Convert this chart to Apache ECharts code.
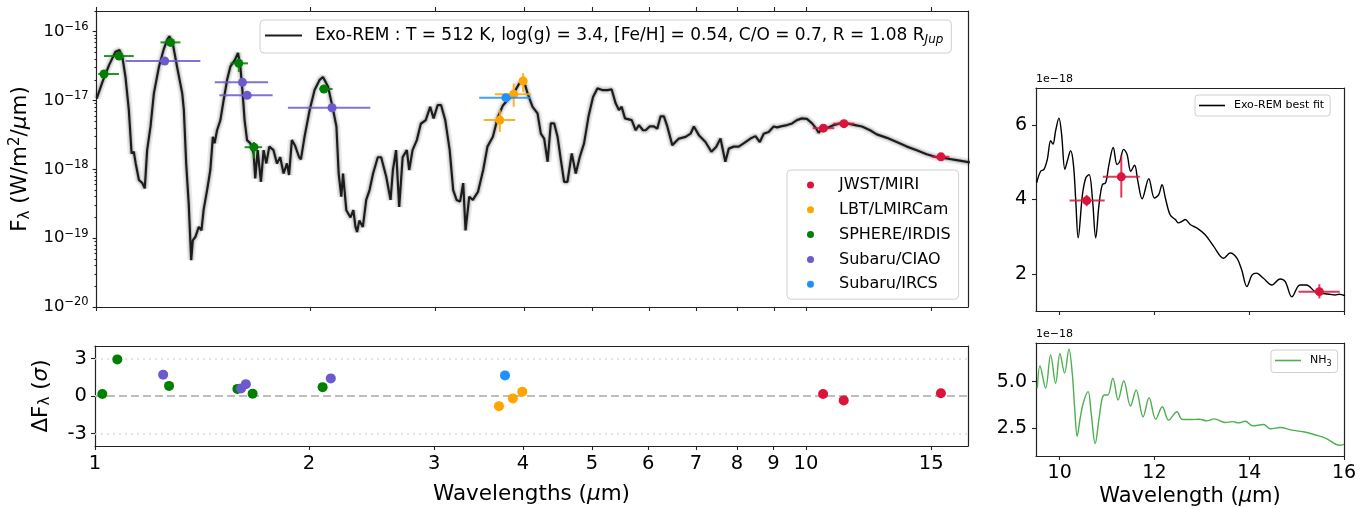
<!DOCTYPE html>
<html>
<head>
<meta charset="utf-8">
<script src="https://cdn.jsdelivr.net/npm/echarts@6.0.0/dist/echarts.min.js"></script>
<style>
  html, body { margin: 0; padding: 0; background: #fff; }
  #main { width: 1366px; height: 508px; }
</style>
</head>
<body>
<div id="main"></div>
<script>
// model spectrum (Exo-REM best fit), wavelength in micron, flux in W/m2/micron
var specWave = [1.000, 1.019, 1.041, 1.063, 1.077, 1.087, 1.098, 1.110, 1.120, 1.128, 1.135, 1.140, 1.147, 1.160, 1.169,
  1.178, 1.191, 1.204, 1.224, 1.244, 1.257, 1.266, 1.280, 1.298, 1.320, 1.327, 1.337, 1.348, 1.359, 1.366, 1.378,
  1.393, 1.405, 1.415, 1.431, 1.446, 1.458, 1.466, 1.478, 1.494, 1.510, 1.527, 1.543, 1.566, 1.582, 1.594, 1.606,
  1.616, 1.629, 1.646, 1.664, 1.673, 1.686, 1.704, 1.719, 1.734, 1.751, 1.775, 1.795, 1.814, 1.834, 1.854, 1.867,
  1.884, 1.904, 1.929, 1.940, 1.963, 1.996, 2.028, 2.062, 2.084, 2.119, 2.154, 2.177, 2.193, 2.212, 2.224, 2.248,
  2.279, 2.300, 2.316, 2.328, 2.345, 2.372, 2.398, 2.424, 2.452, 2.490, 2.517, 2.559, 2.595, 2.615, 2.642, 2.669,
  2.699, 2.736, 2.757, 2.787, 2.826, 2.863, 2.909, 2.951, 2.984, 3.024, 3.057, 3.099, 3.144, 3.180, 3.215, 3.252,
  3.285, 3.310, 3.350, 3.389, 3.446, 3.505, 3.554, 3.617, 3.677, 3.737, 3.773, 3.856, 3.940, 4.004, 4.048, 4.114,
  4.181, 4.226, 4.272, 4.320, 4.365, 4.413, 4.462, 4.510, 4.558, 4.607, 4.672, 4.733, 4.795, 4.862, 4.932, 5.006,
  5.077, 5.160, 5.245, 5.318, 5.387, 5.445, 5.493, 5.553, 5.675, 5.749, 5.810, 5.887, 5.938, 6.015, 6.099, 6.166,
  6.233, 6.300, 6.370, 6.474, 6.614, 6.759, 6.869, 6.944, 7.057, 7.210, 7.350, 7.464, 7.570, 7.690, 7.777, 7.902,
  8.030, 8.160, 8.343, 8.480, 8.600, 8.710, 8.850, 8.995, 9.095, 9.244, 9.396, 9.550, 9.700, 9.860, 10.02, 10.19,
  10.33, 10.41, 10.52, 10.75, 10.93, 11.16, 11.41, 11.72, 11.98, 12.30, 12.57, 12.99, 13.41, 13.86, 14.31, 14.78,
  15.27, 15.77, 16.29, 17.00];
var specFlux = [1.07e-17, 1.87e-17, 3.27e-17, 5.1e-17, 5.4e-17, 4.3e-17, 2.2e-17, 7.3e-18, 1.7e-18, 1.8e-18, 1.22e-18, 1.3e-18, 7.0e-19, 6.3e-19, 5.3e-19,
  1.9e-18, 4.2e-18, 1.27e-17, 3.1e-17, 5.7e-17, 7.6e-17, 8.6e-17, 6.8e-17, 3.1e-17, 1.27e-17, 7.3e-18, 1.22e-18, 3.2e-19, 4.8e-20, 9.3e-20, 1.05e-19,
  1.46e-19, 1.3e-19, 2.6e-19, 5.0e-19, 9.8e-19, 2.97e-18, 2.4e-18, 3.7e-18, 5.2e-18, 1.02e-17, 2.0e-17, 3.1e-17, 3.9e-17, 4.9e-17, 3.1e-17, 1.27e-17,
  5.2e-18, 2.66e-18, 2.4e-18, 1.7e-18, 7.4e-19, 1.9e-18, 6.6e-19, 1.9e-18, 1.22e-18, 2.14e-18, 1.9e-18, 1.22e-18, 1.5e-18, 8.7e-19, 1.22e-18, 8.3e-19,
  2.66e-18, 2.2e-18, 1.5e-18, 1.4e-18, 2.97e-18, 7.3e-18, 1.42e-17, 2.0e-17, 2.2e-17, 1.58e-17, 7.3e-18, 4.2e-18, 8.7e-19, 4.0e-19, 8.7e-19, 2.55e-19,
  2.0e-19, 2.55e-19, 1.46e-19, 1.23e-19, 1.8e-19, 1.46e-19, 3.6e-19, 5.0e-19, 8.7e-19, 1.5e-18, 1.5e-18, 7.8e-19, 3.6e-19, 9.8e-19, 1.9e-18, 2.85e-19,
  1.5e-18, 1.9e-18, 9.8e-19, 1.9e-18, 2.66e-18, 4.6e-18, 5.2e-18, 8.1e-18, 5.5e-18, 8.6e-18, 8.6e-18, 5.2e-18, 1.9e-18, 5.0e-19, 3.6e-19, 3.4e-19,
  6.3e-19, 1.3e-19, 4.0e-19, 3.6e-19, 4.7e-19, 9.8e-19, 2.14e-18, 2.97e-18, 5.8e-18, 8.5e-18, 9.5e-18, 1.2e-17, 1.77e-17, 1.87e-17, 1.27e-17, 8.1e-18,
  6.5e-18, 3.3e-18, 2.8e-18, 1.29e-18, 4.65e-18, 4.65e-18, 2.97e-18, 1.36e-18, 6.6e-19, 6.6e-19, 1.7e-18, 8.7e-19, 1.51e-18, 2.38e-18, 5.8e-18, 1.13e-17,
  1.5e-17, 1.42e-17, 1.42e-17, 1.45e-17, 9.1e-18, 7.3e-18, 8.1e-18, 5.5e-18, 5.2e-18, 3.7e-18, 4.4e-18, 3.7e-18, 3.7e-18, 4.2e-18, 4.2e-18, 3.9e-18,
  5.9e-18, 5.9e-18, 4.2e-18, 2.25e-18, 2.8e-18, 2.97e-18, 3.3e-18, 4.2e-18, 3.14e-18, 2.5e-18, 1.8e-18, 2.12e-18, 2.8e-18, 1.29e-18, 2.0e-18, 2.14e-18,
  2.14e-18, 2.38e-18, 2.8e-18, 3.04e-18, 2.5e-18, 3.3e-18, 3.5e-18, 4.2e-18, 4.07e-18, 4.25e-18, 4.4e-18, 4.65e-18, 5.2e-18, 5.5e-18, 5.4e-18, 4.65e-18,
  3.9e-18, 3.4e-18, 3.9e-18, 4.07e-18, 4.4e-18, 4.65e-18, 4.65e-18, 4.4e-18, 4.2e-18, 3.7e-18, 3.22e-18, 2.87e-18, 2.5e-18, 2.14e-18, 1.9e-18, 1.66e-18,
  1.5e-18, 1.44e-18, 1.36e-18, 1.26e-18];

// photometry: wavelength, bandwidth limits, flux, flux error limits, residual (sigma)
var miriWave = [10.57, 11.30, 15.48];
var miriWaveLo = [10.21, 10.91, 15.04];
var miriWaveHi = [10.95, 11.69, 15.91];
var miriFlux = [3.97e-18, 4.61e-18, 1.52e-18];
var miriFluxLo = [3.82e-18, 4.05e-18, 1.34e-18];
var miriFluxHi = [4.12e-18, 5.19e-18, 1.72e-18];
var miriResid = [0.16, -0.35, 0.22];

var lbtWave = [3.70, 3.87, 3.99];
var lbtWaveLo = [3.51, 3.64, 3.95];
var lbtWaveHi = [3.89, 4.09, 4.04];
var lbtFlux = [5.2e-18, 1.23e-17, 1.92e-17];
var lbtFluxLo = [3.5e-18, 8.1e-18, 1.34e-17];
var lbtFluxHi = [7.3e-18, 1.77e-17, 2.5e-17];
var lbtResid = [-0.81, -0.19, 0.35];

var sphereWave = [1.024, 1.075, 1.271, 1.586, 1.666, 2.09];
var sphereWaveLo = [1.005, 1.024, 1.23, 1.543, 1.616, 2.06];
var sphereWaveHi = [1.075, 1.128, 1.312, 1.634, 1.711, 2.15];
var sphereFlux = [2.43e-17, 4.43e-17, 7.0e-17, 3.47e-17, 2.1e-18, 1.47e-17];
var sphereFluxLo = [2.25e-17, 4.15e-17, 6.5e-17, 2.6e-17, 1.44e-18, 1.38e-17];
var sphereFluxHi = [2.6e-17, 4.7e-17, 7.5e-17, 4.1e-17, 2.5e-18, 1.56e-17];
var sphereResid = [0.16, 2.93, 0.81, 0.57, 0.19, 0.71];

var ciaoWave = [1.247, 1.605, 1.63, 2.146];
var ciaoWaveLo = [1.098, 1.467, 1.489, 1.86];
var ciaoWaveHi = [1.40, 1.744, 1.77, 2.43];
var ciaoFlux = [3.75e-17, 1.84e-17, 1.19e-17, 7.86e-18];
var ciaoFluxLo = [3.6e-17, 1.76e-17, 1.14e-17, 7.5e-18];
var ciaoFluxHi = [3.9e-17, 1.92e-17, 1.24e-17, 8.2e-18];
var ciaoResid = [1.71, 0.6, 0.95, 1.41];

var ircsWave = [3.773];
var ircsWaveLo = [3.46];
var ircsWaveHi = [4.09];
var ircsFlux = [1.1e-17];
var ircsFluxLo = [1.05e-17];
var ircsFluxHi = [1.15e-17];
var ircsResid = [1.65];

// zoomed MIRI range, flux in units of 1e-18
var zoomWave = [9.514, 9.598, 9.668, 9.739, 9.81, 9.858, 9.914, 9.984, 10.04, 10.11, 10.16, 10.23, 10.29, 10.34, 10.39,
  10.48, 10.55, 10.62, 10.69, 10.76, 10.83, 10.9, 10.97, 11.04, 11.13, 11.21, 11.27, 11.35, 11.42, 11.5, 11.58,
  11.65, 11.74, 11.88, 12.0, 12.09, 12.16, 12.23, 12.33, 12.44, 12.51, 12.58, 12.65, 12.76, 12.9, 13.07, 13.25,
  13.46, 13.6, 13.74, 13.84, 13.95, 14.06, 14.15, 14.3, 14.48, 14.65, 14.76, 14.9, 15.07, 15.21, 15.39, 15.56,
  15.7, 15.81, 15.9, 16.02];
var zoomFlux = [4.45, 4.76, 4.81, 5.08, 5.58, 5.49, 5.85, 6.19, 5.76, 4.81, 5.03, 5.31, 4.94, 3.95, 2.97,
  4.13, 4.58, 4.67, 4.04, 2.97, 3.86, 4.4, 4.45, 4.94, 5.40, 4.94, 5.03, 5.35, 5.22, 4.76, 4.92,
  4.49, 4.02, 4.56, 4.04, 4.13, 4.4, 4.04, 3.59, 3.46, 3.37, 3.41, 3.46, 3.32, 3.23, 3.05, 2.74,
  2.42, 2.56, 2.42, 2.11, 1.66, 1.97, 2.02, 1.88, 1.70, 1.86, 1.79, 1.38, 1.70, 1.70, 1.52, 1.47,
  1.45, 1.43, 1.45, 1.41];

// NH3 contribution, flux in units of 1e-18
var nh3Wave = [9.528, 9.584, 9.703, 9.809, 9.914, 10.005, 10.103, 10.195, 10.265, 10.314, 10.37, 10.426, 10.496, 10.6,
  10.665, 10.749, 10.826, 10.896, 10.946, 11.016, 11.121, 11.233, 11.353, 11.493, 11.612, 11.76, 11.886, 12.026,
  12.166, 12.3, 12.475, 12.58, 12.756, 12.945, 13.107, 13.261, 13.493, 13.654, 13.773, 13.914, 14.075, 14.3,
  14.454, 14.65, 14.896, 15.14, 15.42, 15.63, 15.9, 16.0];
var nh3Flux = [4.64, 5.85, 4.64, 6.45, 4.91, 6.51, 5.46, 6.76, 5.46, 3.64, 2.05, 2.92, 3.83, 4.46,
  3.28, 1.65, 2.92, 4.10, 4.28, 4.28, 5.18, 4.01, 5.05, 3.68, 4.55, 3.10, 4.13, 2.97,
  3.64, 2.92, 3.37, 2.97, 2.95, 2.97, 2.88, 2.99, 2.79, 2.84, 2.77, 2.86, 2.61, 2.68,
  2.45, 2.52, 2.38, 2.29, 2.10, 1.92, 1.56, 1.61];

var waveTicks = [1, 2, 3, 4, 5, 6, 7, 8, 9, 10, 15];
var fluxTicks = [1e-20, 1e-19, 1e-18, 1e-17, 1e-16];

var FONT = 'DejaVu Sans';
var modelName = 'Exo-REM : T = 512 K, log(g) = 3.4, [Fe/H] = 0.54, C/O = 0.7, R = 1.08 R';

function zip(a, b) {
  return a.map(function (v, i) { return [v, b[i]]; });
}
function errData(w, wl, wh, f, fl, fh, scale) {
  scale = scale || 1;
  return w.map(function (v, i) {
    return [v, f[i] * scale, wl[i], wh[i], fl[i] * scale, fh[i] * scale];
  });
}
// error bars + marker, placed with the axis scales
function errRender(params, api) {
  var x = api.value(0), y = api.value(1);
  var c = api.coord([x, y]);
  var l = api.coord([api.value(2), y]);
  var r = api.coord([api.value(3), y]);
  var b = api.coord([x, api.value(4)]);
  var t = api.coord([x, api.value(5)]);
  var color = api.visual('color');
  return {
    type: 'group',
    children: [
      { type: 'line', shape: { x1: l[0], y1: l[1], x2: r[0], y2: r[1] }, style: { stroke: color, lineWidth: 2, opacity: 0.85 } },
      { type: 'line', shape: { x1: b[0], y1: b[1], x2: t[0], y2: t[1] }, style: { stroke: color, lineWidth: 2, opacity: 0.85 } },
      { type: 'circle', shape: { cx: c[0], cy: c[1], r: 4.5 }, style: { fill: color } }
    ]
  };
}

var minorTicks = [];
for (var e = -20; e < -16; e++) {
  for (var m = 2; m <= 9; m++) minorTicks.push(m * Math.pow(10, e));
}
minorTicks.push(2e-16);

var instruments = [
  { name: 'JWST/MIRI', color: '#dc143c', d: [miriWave, miriWaveLo, miriWaveHi, miriFlux, miriFluxLo, miriFluxHi], res: miriResid },
  { name: 'LBT/LMIRCam', color: '#ffa500', d: [lbtWave, lbtWaveLo, lbtWaveHi, lbtFlux, lbtFluxLo, lbtFluxHi], res: lbtResid },
  { name: 'SPHERE/IRDIS', color: '#008000', d: [sphereWave, sphereWaveLo, sphereWaveHi, sphereFlux, sphereFluxLo, sphereFluxHi], res: sphereResid },
  { name: 'Subaru/CIAO', color: '#6a5acd', d: [ciaoWave, ciaoWaveLo, ciaoWaveHi, ciaoFlux, ciaoFluxLo, ciaoFluxHi], res: ciaoResid },
  { name: 'Subaru/IRCS', color: '#1e90ff', d: [ircsWave, ircsWaveLo, ircsWaveHi, ircsFlux, ircsFluxLo, ircsFluxHi], res: ircsResid }
];

var frameLine = { show: true, onZero: false, lineStyle: { color: '#222', width: 1.2 } };
var noTick = { show: false };
var noLabel = { show: false };
var noSplit = { show: false };
var tickStyle = { color: '#222', width: 1.1 };

var series = [
  // spread of model spectra
  { type: 'line', xAxisIndex: 0, yAxisIndex: 0, data: zip(specWave, specFlux), showSymbol: false, silent: true,
    lineStyle: { color: 'rgba(0,0,0,0.08)', width: 8 }, z: 1 },
  { type: 'line', xAxisIndex: 0, yAxisIndex: 0, data: zip(specWave, specFlux), showSymbol: false, silent: true,
    lineStyle: { color: 'rgba(0,0,0,0.15)', width: 4.5 }, z: 1 },
  { name: 'model', type: 'line', xAxisIndex: 0, yAxisIndex: 0, data: zip(specWave, specFlux), showSymbol: false,
    lineStyle: { color: '#1c1c1c', width: 2.2 }, itemStyle: { color: '#1c1c1c' }, z: 2 },
  // residual reference lines
  { type: 'line', xAxisIndex: 2, yAxisIndex: 3, data: [], silent: true,
    markLine: { symbol: 'none', silent: true, label: { show: false },
      data: [
        { yAxis: 3, lineStyle: { color: '#dcdcdc', type: [2, 4], width: 1.5 } },
        { yAxis: -3, lineStyle: { color: '#dcdcdc', type: [2, 4], width: 1.5 } },
        { yAxis: 0, lineStyle: { color: '#bdbdbd', type: [8, 4], width: 2 } }
      ] } },
  // zoomed best fit and NH3
  { name: 'Exo-REM best fit', type: 'line', xAxisIndex: 3, yAxisIndex: 5, data: zip(zoomWave, zoomFlux), showSymbol: false,
    smooth: 0.35, lineStyle: { color: '#000', width: 1.4 }, itemStyle: { color: '#000' } },
  { name: 'NH3', type: 'line', xAxisIndex: 5, yAxisIndex: 7, data: zip(nh3Wave, nh3Flux), showSymbol: false,
    smooth: 0.35, lineStyle: { color: '#4caf50', width: 1.4 }, itemStyle: { color: '#4caf50' } },
  { name: 'JWST/MIRI', type: 'custom', xAxisIndex: 3, yAxisIndex: 5, renderItem: errRender, clip: true,
    itemStyle: { color: '#dc143c' },
    data: errData(miriWave, miriWaveLo, miriWaveHi, miriFlux, miriFluxLo, miriFluxHi, 1e18),
    encode: { x: [0, 2, 3], y: [1, 4, 5] }, z: 5 }
];

instruments.forEach(function (ins) {
  series.push({
    name: ins.name, type: 'custom', xAxisIndex: 0, yAxisIndex: 0, renderItem: errRender, clip: true,
    itemStyle: { color: ins.color },
    data: errData(ins.d[0], ins.d[1], ins.d[2], ins.d[3], ins.d[4], ins.d[5]),
    encode: { x: [0, 2, 3], y: [1, 4, 5] }, z: 5
  });
  series.push({
    name: ins.name, type: 'scatter', xAxisIndex: 2, yAxisIndex: 3, symbolSize: 10,
    itemStyle: { color: ins.color, opacity: 1 }, data: zip(ins.d[0], ins.res), z: 5
  });
});

var option = {
  animation: false,
  backgroundColor: '#fff',
  textStyle: { fontFamily: FONT, color: '#000' },
  grid: [
    { left: 95, top: 11, width: 873, height: 296 },
    { left: 95, top: 346, width: 873, height: 100 },
    { left: 1036, top: 88, width: 308, height: 223 },
    { left: 1036, top: 343, width: 308, height: 113 }
  ],
  legend: [
    {
      data: [{ name: 'model', icon: 'rect' }],
      left: 260, top: 20, orient: 'horizontal',
      itemWidth: 37, itemHeight: 2.2,
      padding: [7, 8, 7, 5],
      backgroundColor: 'rgba(255,255,255,0.85)', borderColor: '#d0d0d0', borderWidth: 1, borderRadius: 4,
      formatter: function () { return modelName + '{sub|Jup}'; },
      textStyle: { fontFamily: FONT, fontSize: 17, color: '#000', padding: [0, 0, 0, 8],
        rich: { sub: { fontFamily: FONT, fontSize: 12, fontStyle: 'italic', padding: [9, 0, 0, 0] } } }
    },
    {
      data: instruments.map(function (ins) { return { name: ins.name, icon: 'circle' }; }),
      left: 787, top: 170, orient: 'vertical',
      itemWidth: 7, itemHeight: 7, itemGap: 8.8,
      padding: [7, 8, 7, 20],
      backgroundColor: 'rgba(255,255,255,0.85)', borderColor: '#d0d0d0', borderWidth: 1, borderRadius: 4,
      textStyle: { fontFamily: FONT, fontSize: 16, color: '#000', padding: [0, 0, 0, 20] }
    },
    {
      data: [{ name: 'Exo-REM best fit', icon: 'rect' }],
      left: 1195, top: 95,
      itemWidth: 26, itemHeight: 1.6,
      padding: [5, 6, 5, 4],
      backgroundColor: '#fff', borderColor: '#d0d0d0', borderWidth: 1, borderRadius: 3,
      textStyle: { fontFamily: FONT, fontSize: 11, color: '#000', padding: [0, 0, 0, 4] }
    },
    {
      data: [{ name: 'NH3', icon: 'rect' }],
      left: 1271, top: 350,
      itemWidth: 26, itemHeight: 1.6,
      padding: [5, 6, 5, 4],
      backgroundColor: '#fff', borderColor: '#d0d0d0', borderWidth: 1, borderRadius: 3,
      formatter: function () { return 'NH{sub|3}'; },
      textStyle: { fontFamily: FONT, fontSize: 11, color: '#000', padding: [0, 0, 0, 4],
        rich: { sub: { fontFamily: FONT, fontSize: 8, padding: [6, 0, 0, 0] } } }
    }
  ],
  xAxis: [
    { type: 'log', gridIndex: 0, min: 1, max: 16.9, axisLine: frameLine,
      axisTick: { customValues: waveTicks, length: 4, lineStyle: tickStyle },
      axisLabel: noLabel, splitLine: noSplit },
    { type: 'log', gridIndex: 0, position: 'top', min: 1, max: 16.9, axisLine: frameLine,
      axisTick: { customValues: waveTicks, length: 4, lineStyle: tickStyle },
      axisLabel: noLabel, splitLine: noSplit },
    { type: 'log', gridIndex: 1, position: 'bottom', min: 1, max: 16.9, axisLine: frameLine,
      axisTick: { customValues: waveTicks, length: 4, lineStyle: tickStyle },
      axisLabel: { customValues: waveTicks, fontSize: 19.5, color: '#000', margin: 8, fontFamily: FONT,
        formatter: function (v) { return String(Math.round(v)); } },
      splitLine: noSplit,
      name: 'Wavelengths ({i|μ}m)', nameLocation: 'middle', nameGap: 37,
      nameTextStyle: { fontSize: 21.5, fontFamily: FONT, color: '#000', rich: { i: { fontSize: 21.5, fontStyle: 'italic', fontFamily: FONT } } } },
    { type: 'value', gridIndex: 2, position: 'bottom', min: 9.5, max: 16, axisLine: frameLine,
      axisTick: { customValues: [10, 12, 14, 16], length: 4, lineStyle: tickStyle },
      axisLabel: noLabel, splitLine: noSplit },
    { type: 'value', gridIndex: 2, position: 'top', min: 9.5, max: 16, axisLine: frameLine,
      axisTick: noTick, axisLabel: noLabel, splitLine: noSplit },
    { type: 'value', gridIndex: 3, position: 'bottom', min: 9.5, max: 16, axisLine: frameLine,
      axisTick: { customValues: [10, 12, 14, 16], length: 4, lineStyle: tickStyle },
      axisLabel: { customValues: [10, 12, 14, 16], fontSize: 19, color: '#000', margin: 8, fontFamily: FONT },
      splitLine: noSplit,
      name: 'Wavelength ({i|μ}m)', nameLocation: 'middle', nameGap: 30,
      nameTextStyle: { fontSize: 21, fontFamily: FONT, color: '#000', rich: { i: { fontSize: 21, fontStyle: 'italic', fontFamily: FONT } } } },
    { type: 'value', gridIndex: 3, position: 'top', min: 9.5, max: 16, axisLine: frameLine,
      axisTick: noTick, axisLabel: noLabel, splitLine: noSplit },
    { type: 'log', gridIndex: 1, position: 'top', min: 1, max: 16.9, axisLine: frameLine,
      axisTick: noTick, axisLabel: noLabel, splitLine: noSplit }
  ],
  yAxis: [
    { type: 'log', gridIndex: 0, position: 'left', min: 1e-20, max: 2e-16, axisLine: frameLine,
      axisTick: { customValues: fluxTicks, length: 4, lineStyle: tickStyle },
      axisLabel: { customValues: fluxTicks, fontSize: 16.5, color: '#000', margin: 8, fontFamily: FONT,
        formatter: function (v) { return '10{sup|−' + (-Math.round(Math.log10(v))) + '}'; },
        rich: { sup: { fontSize: 11.5, fontFamily: FONT, padding: [0, 0, 9, 0] } } },
      splitLine: noSplit,
      name: 'F{sub|λ} (W/m{sup|2}/{i|μ}m)', nameLocation: 'middle', nameGap: 62,
      nameTextStyle: { fontSize: 21.5, fontFamily: FONT, color: '#000',
        rich: { sub: { fontSize: 15, fontFamily: FONT, padding: [9, 0, 0, 0] },
                sup: { fontSize: 15, fontFamily: FONT, padding: [0, 0, 10, 0] },
                i: { fontSize: 21.5, fontStyle: 'italic', fontFamily: FONT } } } },
    { type: 'log', gridIndex: 0, position: 'left', offset: 0, min: 1e-20, max: 2e-16, axisLine: { show: false, onZero: false },
      axisTick: { customValues: minorTicks, length: 2.2, lineStyle: tickStyle },
      axisLabel: noLabel, splitLine: noSplit },
    { type: 'log', gridIndex: 0, position: 'right', min: 1e-20, max: 2e-16, axisLine: frameLine,
      axisTick: noTick, axisLabel: noLabel, splitLine: noSplit },
    { type: 'value', gridIndex: 1, position: 'left', min: -4, max: 4, axisLine: frameLine,
      axisTick: { customValues: [-3, 0, 3], length: 4, lineStyle: tickStyle },
      axisLabel: { customValues: [-3, 0, 3], fontSize: 19.5, color: '#000', margin: 8, fontFamily: FONT },
      splitLine: noSplit,
      name: 'ΔF{sub|λ} ({i|σ})', nameLocation: 'middle', nameGap: 42,
      nameTextStyle: { fontSize: 21.5, fontFamily: FONT, color: '#000',
        rich: { sub: { fontSize: 15, fontFamily: FONT, padding: [9, 0, 0, 0] },
                i: { fontSize: 21.5, fontStyle: 'italic', fontFamily: FONT } } } },
    { type: 'value', gridIndex: 1, position: 'right', min: -4, max: 4, axisLine: frameLine,
      axisTick: noTick, axisLabel: noLabel, splitLine: noSplit },
    { type: 'value', gridIndex: 2, position: 'left', min: 1, max: 7, axisLine: frameLine,
      axisTick: { customValues: [2, 4, 6], length: 4, lineStyle: tickStyle },
      axisLabel: { customValues: [2, 4, 6], fontSize: 19, color: '#000', margin: 9, fontFamily: FONT },
      splitLine: noSplit,
      name: '1e−18', nameLocation: 'end', nameGap: 3,
      nameTextStyle: { fontSize: 11, fontFamily: FONT, color: '#000', align: 'left' } },
    { type: 'value', gridIndex: 2, position: 'right', min: 1, max: 7, axisLine: frameLine,
      axisTick: noTick, axisLabel: noLabel, splitLine: noSplit },
    { type: 'value', gridIndex: 3, position: 'left', min: 0.98, max: 7.09, axisLine: frameLine,
      axisTick: { customValues: [2.5, 5.0], length: 4, lineStyle: tickStyle },
      axisLabel: { customValues: [2.5, 5.0], fontSize: 19, color: '#000', margin: 9, fontFamily: FONT,
        formatter: function (v) { return v.toFixed(1); } },
      splitLine: noSplit,
      name: '1e−18', nameLocation: 'end', nameGap: 3,
      nameTextStyle: { fontSize: 11, fontFamily: FONT, color: '#000', align: 'left' } },
    { type: 'value', gridIndex: 3, position: 'right', min: 0.98, max: 7.09, axisLine: frameLine,
      axisTick: noTick, axisLabel: noLabel, splitLine: noSplit }
  ],
  series: series
};

var myChart = echarts.init(document.getElementById('main'));
myChart.setOption(option);
window.addEventListener('resize', function () {
  myChart.resize();
});
</script>
</body>
</html>
